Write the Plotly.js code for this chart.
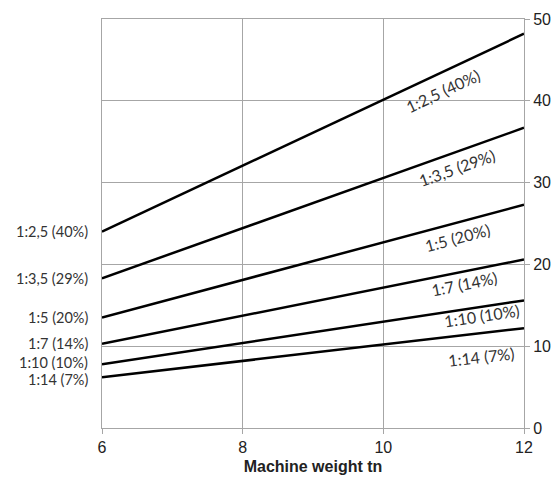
<!DOCTYPE html>
<html><head><meta charset="utf-8">
<script src="https://cdn.plot.ly/plotly-3.0.1.min.js"></script>
<style>html,body{margin:0;padding:0;background:#fff}#c{width:560px;height:485px}</style>
</head><body><div id="c"></div>
<script>
var weights = [6, 12];
var gradeLabels = ["1:2,5 (40%)", "1:3,5 (29%)", "1:5 (20%)", "1:7 (14%)", "1:10 (10%)", "1:14 (7%)"];
var force40 = [24.0, 48.2];
var force29 = [18.3, 36.7];
var force20 = [13.5, 27.3];
var force14 = [10.3, 20.6];
var force10 = [7.8, 15.6];
var force7 = [6.2, 12.2];
var series = [force40, force29, force20, force14, force10, force7];
// inline label anchor points (x, y)
var labelX = [10.85, 11.05, 11.05, 11.16, 11.4, 11.4];
var labelY = [41.3, 31.9, 23.35, 17.7, 13.7, 8.7];
var xTicks = [6, 8, 10, 12];
var yTicks = [0, 10, 20, 30, 40, 50];

var traces = series.map(function(s, i){
  return {x: weights, y: s, mode: 'lines', type: 'scatter', yaxis: 'y',
    line: {color: '#000', width: 2.5}, hoverinfo: 'skip', showlegend: false};
});

var ann = [];
var m = {l:102, r:36, t:19, b:57};
var pw = 560 - m.l - m.r, ph = 485 - m.t - m.b;
var lf = 'Lato, "Open Sans", sans-serif';
var leftShift = [0, 0, 0, 0, 2, -2];
series.forEach(function(s, i){
  ann.push({xref:'paper', yref:'y', x:0, y:s[0], xanchor:'right', yanchor:'middle',
    xshift:-12, yshift: leftShift[i], text: gradeLabels[i], showarrow:false,
    font:{family:lf, size:14.5, color:'#333'}});
  var dx = (weights[1]-weights[0]) / 6 * pw;
  var dy = (s[1]-s[0]) / 50 * ph;
  var ang = -Math.atan2(dy, dx) * 180 / Math.PI;
  ann.push({xref:'x', yref:'y', x:labelX[i], y:labelY[i], xanchor:'center', yanchor:'middle',
    text: gradeLabels[i], showarrow:false, textangle: ang,
    font:{family:lf, size:16, color:'#333'}});
});

var layout = {
  width:560, height:485, margin:m,
  paper_bgcolor:'#fff', plot_bgcolor:'#fff', showlegend:false,
  font:{family:'Liberation Sans, Arial, sans-serif', color:'#222'},
  xaxis:{range:[6,12], tickvals:xTicks, ticktext:xTicks.map(String), showgrid:true, gridcolor:'#a6a6a6', gridwidth:1,
    zeroline:false, showline:true, linecolor:'#a6a6a6', linewidth:1, mirror:true,
    ticks:'outside', ticklen:5, tickcolor:'#a6a6a6', tickfont:{size:16, color:'#222'},
    title:{text:'<b>Machine weight tn</b>', font:{size:16, color:'#222'}, standoff:5}},
  yaxis:{range:[0,50], side:'right', tickvals:yTicks, showgrid:true, gridcolor:'#a6a6a6', gridwidth:1,
    zeroline:false, showline:true, linecolor:'#a6a6a6', linewidth:1, mirror:true,
    ticks:'outside', ticklen:5, tickcolor:'#a6a6a6', tickfont:{size:16, color:'#222'}},
  annotations: ann
};
Plotly.newPlot('c', traces, layout, {staticPlot:true});
</script></body></html>
